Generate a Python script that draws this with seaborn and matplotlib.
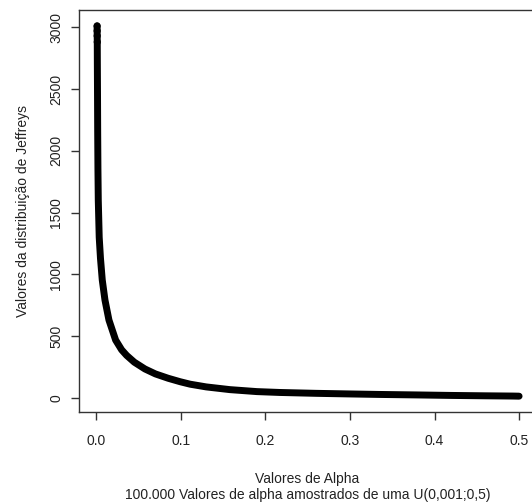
import matplotlib
matplotlib.use("Agg")
import matplotlib.pyplot as plt
import seaborn as sns
import pandas as pd

# values
alpha = [0.001, 0.00105, 0.0011, 0.0012, 0.0013, 0.0015, 0.0017, 0.002, 0.0024,
         0.0035, 0.005, 0.0071, 0.0103, 0.015, 0.0229, 0.030, 0.0359, 0.045,
         0.0576, 0.070, 0.085, 0.0992, 0.111, 0.13, 0.158, 0.19, 0.217, 0.26,
         0.30, 0.335, 0.38, 0.42, 0.46, 0.4926, 0.5]
jeffreys = [3010, 2970, 2930, 2880, 2700, 2450, 2150, 1850, 1600,
            1300, 1130, 955, 793, 631, 469, 390, 345, 290,
            235, 195, 160, 132, 112, 90, 68, 52, 45, 38,
            33, 29, 25, 21, 18, 16, 15]
xticks = [0.0, 0.1, 0.2, 0.3, 0.4, 0.5]
yticks = [0, 500, 1000, 1500, 2000, 2500, 3000]

df = pd.DataFrame({"alpha": alpha, "jeffreys": jeffreys})

sns.set_style("ticks")
plt.rcParams["font.family"] = ["Liberation Sans", "DejaVu Sans"]
plt.rcParams["font.size"] = 10

fig = plt.figure(figsize=(5.32, 5.03), dpi=100)
ax = fig.add_axes([79 / 532, 1 - 412 / 503, (536 - 79) / 532, (412 - 10) / 503])

sns.lineplot(data=df, x="alpha", y="jeffreys", color="black", linewidth=5,
             solid_capstyle="round", solid_joinstyle="round", ax=ax)
top = df[df["jeffreys"] > 2800]
sns.scatterplot(data=top, x="alpha", y="jeffreys", marker="o", s=18,
                facecolor="none", edgecolor="black", linewidth=0.9, ax=ax)

ax.set_xlim(-0.0204, 0.52)
ax.set_ylim(-113, 3139)
ax.set_xticks(xticks)
ax.set_xticklabels([f"{v:.1f}" for v in xticks])
ax.set_yticks(yticks)
ax.set_yticklabels([str(v) for v in yticks], rotation=90, va="center")
for s in ax.spines.values():
    s.set_visible(True)
    s.set_color("#333333")
    s.set_linewidth(1.0)
ax.tick_params(axis="both", direction="out", length=6, width=1.0,
               color="#333333", labelcolor="#222222", labelsize=10)
ax.tick_params(axis="x", pad=10)
ax.tick_params(axis="y", pad=5.5)

ax.set_xlabel("Valores de Alpha\n100.000 Valores de alpha amostrados de uma U(0,001;0,5)",
              color="#222222", fontsize=10, labelpad=17)
ax.set_ylabel("Valores da distribuição de Jeffreys", color="#222222",
              fontsize=10, labelpad=14)

fig.savefig("out.png", dpi=100)
